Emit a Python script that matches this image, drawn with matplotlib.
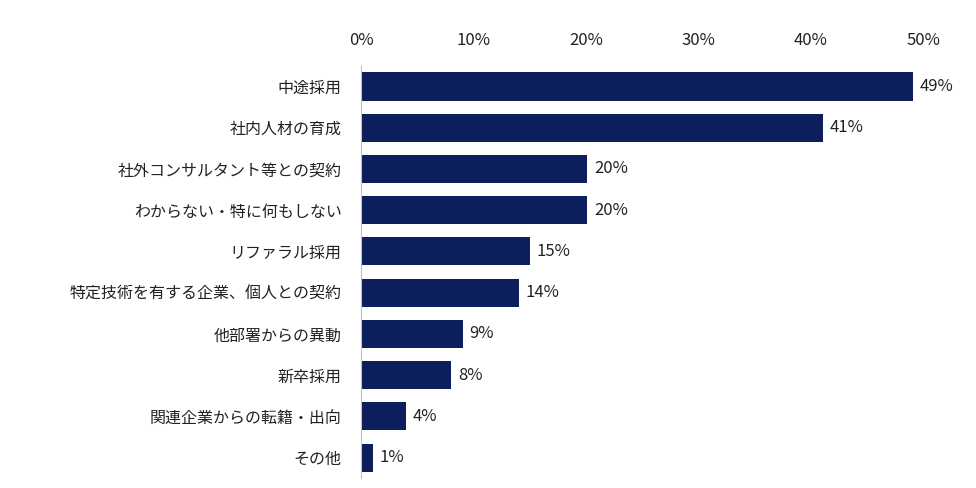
import matplotlib
matplotlib.use("Agg")
import matplotlib.pyplot as plt

categories = ["中途採用", "社内人材の育成", "社外コンサルタント等との契約", "わからない・特に何もしない",
              "リファラル採用", "特定技術を有する企業、個人との契約", "他部署からの異動", "新卒採用",
              "関連企業からの転籍・出向", "その他"]
values = [49, 41, 20, 20, 15, 14, 9, 8, 4, 1]
bar_lengths = [49.1, 41.1, 20.1, 20.1, 15.0, 14.0, 9.05, 8.0, 4.0, 1.05]
xticks = [0, 10, 20, 30, 40, 50]

plt.rcParams["font.family"] = "Noto Sans CJK JP"
fig = plt.figure(figsize=(9.76, 4.88), dpi=100)
ax = fig.add_axes([0.37, 0.02, 0.576, 0.845])
y = list(range(len(categories)))
ax.barh(y, bar_lengths, height=0.68, color="#0c1f5c")
for yi, L, v in zip(y, bar_lengths, values):
    ax.text(L + 0.6, yi, f"{v}%", va="center", ha="left", fontsize=12, color="#222222")
ax.set_yticks(y)
ax.set_yticklabels(categories, fontsize=11.5, color="#222222")
ax.set_ylim(len(categories) - 0.5, -0.5)
ax.set_xlim(0, 50)
ax.set_xticks(xticks)
ax.set_xticklabels([f"{t}%" for t in xticks], fontsize=12, color="#222222")
ax.xaxis.tick_top()
ax.tick_params(axis="both", length=0)
ax.tick_params(axis="x", pad=12)
ax.tick_params(axis="y", pad=14)
for s in ["top", "right", "bottom"]:
    ax.spines[s].set_visible(False)
ax.spines["left"].set_color("#bfbfbf")
fig.savefig("out.png", dpi=100)
